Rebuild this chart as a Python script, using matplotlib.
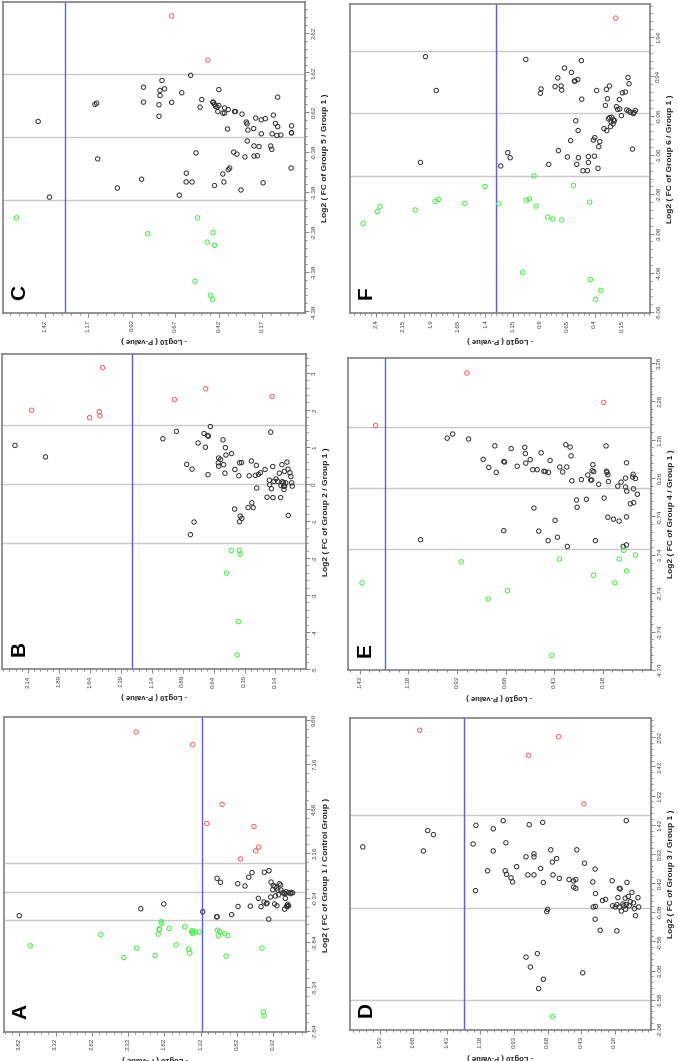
import numpy as np
import matplotlib
matplotlib.use("Agg")
import matplotlib.pyplot as plt
from matplotlib.ticker import FixedLocator

plt.rcParams['font.family'] = ['Liberation Sans', 'DejaVu Sans']

# ---------------- data: -log10(P) and log2(FC) per panel ----------------
# Panel A: Group 1 / Control Group
A_UP_P = [2.21, 1.43, 1.026, 1.237, 0.586, 0.522, 0.563, 0.770]
A_UP_FC = [8.97, 8.26, 4.90, 3.83, 3.66, 2.50, 2.29, 1.84]
A_NS_P = [3.82, 2.146, 1.829, 1.292, 1.100, 1.095, 1.095, 1.049, 0.893, 0.811, 0.806, 0.710,
          0.659, 0.637, 0.614, 0.526, 0.490, 0.448, 0.444, 0.416, 0.407, 0.380, 0.384, 0.352,
          0.357, 0.329, 0.320, 0.297, 0.292, 0.302, 0.274, 0.270, 0.260, 0.247, 0.237, 0.219,
          0.214, 0.187, 0.169, 0.159, 0.155, 0.164, 0.146, 0.137, 0.127, 0.123, 0.109, 0.081,
          0.077, 0.054, 0.109]
A_NS_FC = [-1.35, -0.96, -0.69, -1.13, -1.41, -1.41, 0.75, 0.525, -1.29, 0.45, -0.83, 0.32,
           0.81, -0.81, 1.07, -0.375, -0.84, -0.58, 1.09, -0.675, -0.64, 1.18, -1.54, 0.54,
           -0.30, 0.11, 0.34, 0.30, -0.24, -0.69, 0.21, -0.79, 0.09, -0.17, 0.45, 0.375,
           0.09, -0.06, -0.09, -0.11, -0.375, -0.98, 0.0, -0.81, -0.84, -0.71, -0.06, -0.11,
           -0.04, -0.06, -0.79]
A_DN_P = [3.669, 2.696, 2.380, 2.201, 1.948, 1.907, 1.893, 1.889, 1.866, 1.857, 1.756, 1.659,
          1.540, 1.490, 1.471, 1.444, 1.439, 1.430, 1.393, 1.343, 1.091, 1.077, 1.059, 0.990,
          0.948, 0.971, 0.476, 0.458, 0.448]
A_DN_FC = [-3.04, -2.42, -3.70, -3.17, -3.58, -2.38, -2.10, -2.12, -1.69, -1.78, -2.06, -2.98,
           -1.97, -3.23, -3.45, -2.27, -2.195, -2.345, -2.25, -2.27, -2.16, -2.48, -2.25, -2.36,
           -2.46, -3.62, -3.17, -6.75, -6.96]

# Panel B: Group 2 / Group 1
B_UP_P = [1.537, 2.111, 1.642, 1.564, 1.559, 0.956, 0.704, 0.167]
B_UP_FC = [3.14, 1.99, 1.79, 1.95, 1.84, 2.28, 2.57, 2.36]
B_NS_P = [2.245, 1.999, 1.05, 0.940, 0.857, 0.814, 0.798, 0.827, 0.765, 0.717, 0.706, 0.688,
          0.682, 0.666, 0.685, 0.599, 0.602, 0.599, 0.583, 0.564, 0.559, 0.545, 0.540, 0.548,
          0.495, 0.468, 0.470, 0.436, 0.430, 0.414, 0.430, 0.425, 0.412, 0.361, 0.352, 0.334,
          0.331, 0.320, 0.302, 0.294, 0.291, 0.277, 0.261, 0.224, 0.208, 0.189, 0.187, 0.178,
          0.173, 0.162, 0.160, 0.152, 0.135, 0.122, 0.108, 0.098, 0.095, 0.088, 0.084, 0.076,
          0.073, 0.071, 0.068, 0.066, 0.057, 0.047, 0.039, 0.036, 0.023, 0.015, 0.009, 0.004]
B_NS_FC = [1.04, 0.73, 1.22, 1.42, 0.53, 0.40, -1.03, -1.37, 1.105, 1.36, 0.99, 1.31,
           1.29, 1.55, 0.25, 0.70, 0.57, 0.48, 0.66, 1.19, 0.52, 0.98, 0.78, 0.29,
           0.82, 0.39, -0.68, 0.22, 0.57, 0.58, -1.02, -0.87, -0.93, -0.64, 0.22, 0.62,
           -0.51, -0.64, 0.23, 0.50, -0.11, 0.26, 0.30, 0.39, -0.36, 0.10, -0.02, 1.40,
           -0.13, 0.47, -0.37, 0.07, 0.135, 0.07, 0.29, -0.37, -0.045, 0.52, 0.06, 0.03,
           -0.06, -0.15, 0.34, -0.06, 0.03, 0.59, 0.40, -0.85, 0.30, 0.20, 0.03, -0.06]
B_DN_P = [0.497, 0.433, 0.425, 0.535, 0.438, 0.449]
B_DN_FC = [-1.80, -1.79, -1.90, -2.41, -3.72, -4.62]

# Panel C: Group 5 / Group 1
C_UP_P = [0.691, 0.483]
C_UP_FC = [3.04, 1.93]
C_NS_P = [1.458, 1.393, 1.132, 1.122, 1.116, 1.003, 0.864, 0.853, 0.853, 0.764, 0.764, 0.758,
          0.758, 0.747, 0.732, 0.691, 0.647, 0.633, 0.607, 0.608, 0.574, 0.582, 0.551, 0.528,
          0.518, 0.455, 0.451, 0.445, 0.439, 0.430, 0.420, 0.426, 0.397, 0.387, 0.387, 0.366,
          0.420, 0.445, 0.391, 0.397, 0.370, 0.366, 0.358, 0.335, 0.330, 0.324, 0.316, 0.293,
          0.287, 0.270, 0.262, 0.258, 0.253, 0.257, 0.220, 0.218, 0.218, 0.208, 0.199, 0.189,
          0.176, 0.176, 0.166, 0.153, 0.122, 0.114, 0.116, 0.107, 0.095, 0.087, 0.082, 0.082,
          0.064, 0.005, 0.003, 0.002, 0.002]
C_NS_FC = [0.39, -1.51, 0.82, 0.85, -0.55, -1.28, -1.06, 1.25, 0.875, 0.52, 0.81, 1.04,
           1.17, 1.42, 1.21, 0.87, -1.46, 1.11, -0.91, -1.13, -1.13, 1.55, -0.40, 0.75,
           0.94, 0.875, 0.87, 0.82, 0.77, 0.75, 0.79, 0.64, 0.60, 0.60, 0.73, 0.69,
           1.19, -1.22, -1.13, -0.93, 0.20, -0.82, -0.78, -0.38, 0.64, 0.64, -0.43, -1.33,
           0.575, -0.50, 0.375, 0.33, 0.175, -0.10, 0.21, -0.225, -0.48, 0.475, -0.47, -0.24,
           0.43, 0.08, -1.15, 0.46, -0.225, 0.08, -0.31, 0.55, 0.34, 0.04, 0.26, 1.0,
           0.05, -0.78, 0.11, 0.28, 0.10]
C_DN_P = [1.583, 0.828, 0.543, 0.487, 0.453, 0.445, 0.557, 0.468, 0.457]
C_DN_FC = [-2.03, -2.43, -2.03, -2.64, -2.40, -2.72, -3.625, -3.975, -4.075]

# Panel D: Group 3 / Group 1
D_UP_P = [1.631, 0.821, 0.597, 0.410]
D_UP_FC = [3.04, 2.61, 2.93, 1.78]
D_NS_P = [2.055, 1.572, 1.529, 1.604, 1.213, 1.233, 1.216, 1.126, 1.084, 1.084, 1.010, 0.990,
          0.995, 0.985, 0.952, 0.940, 0.910, 0.840, 0.826, 0.816, 0.781, 0.781, 0.781, 0.731,
          0.711, 0.716, 0.679, 0.656, 0.644, 0.639, 0.612, 0.592, 0.520, 0.487, 0.470, 0.485,
          0.462, 0.470, 0.405, 0.343, 0.326, 0.323, 0.340, 0.323, 0.326, 0.288, 0.271, 0.248,
          0.199, 0.196, 0.176, 0.164, 0.156, 0.146, 0.139, 0.146, 0.131, 0.164, 0.119, 0.112,
          0.102, 0.099, 0.094, 0.089, 0.094, 0.079, 0.072, 0.064, 0.052, 0.040, 0.034, 0.025,
          0.007, 0.002, 0.756, 0.840, 0.808, 0.711, 0.746, 0.686, 0.418]
D_NS_FC = [1.04, 1.32, 1.25, 0.97, 1.41, 1.09, 0.29, 0.63, 0.97, 1.35, 1.49, 1.11,
           0.63, 0.57, 0.51, 0.44, 0.70, 0.87, 0.56, 1.42, 0.87, 0.92, 0.56, 0.67,
           0.43, 1.46, -0.03, 0.99, 0.78, 0.56, 0.84, 0.50, 0.48, 0.455, 0.48, 0.35,
           0.99, 0.33, 0.76, 0.44, 0.66, 0.24, 0.01, 0.02, -0.20, -0.39, 0.12, 0.14,
           0.46, 0.03, 0.01, 0.05, 0.17, 0.33, 0.32, 0.01, -0.06, -0.40, 0.06, 0.03,
           0.16, -0.03, 0.05, 0.43, 1.49, 0.19, 0.03, 0.10, 0.26, 0.08, -0.02, -0.14,
           0.17, 0.01, -0.79, -0.85, -1.02, -1.23, -1.39, -0.07, -1.12]
D_DN_P = [0.644]
D_DN_FC = [-1.87]

# Panel E: Group 4 / Group 1
E_UP_P = [1.348, 0.879, 0.175]
E_UP_FC = [1.63, 3.0, 2.23]
E_NS_P = [1.117, 0.980, 0.952, 0.870, 0.795, 0.766, 0.735, 0.728, 0.689, 0.689, 0.685, 0.651,
          0.620, 0.581, 0.578, 0.576, 0.553, 0.540, 0.534, 0.517, 0.509, 0.497, 0.483, 0.476,
          0.461, 0.459, 0.451, 0.425, 0.413, 0.401, 0.386, 0.370, 0.365, 0.362, 0.348, 0.343,
          0.339, 0.315, 0.312, 0.290, 0.264, 0.257, 0.242, 0.237, 0.235, 0.231, 0.226, 0.218,
          0.201, 0.173, 0.163, 0.161, 0.158, 0.154, 0.154, 0.151, 0.125, 0.103, 0.096, 0.086,
          0.075, 0.058, 0.063, 0.063, 0.058, 0.057, 0.058, 0.038, 0.024, 0.026, 0.022, 0.021,
          0.012, 0.002]
E_NS_FC = [-1.345, 1.30, 1.41, 1.28, 0.75, 0.54, 1.10, 0.41, -1.11, 0.69, 0.68, 1.03,
           0.57, 1.06, 0.90, 0.65, 0.74, 0.48, -0.52, 0.48, -1.12, 0.92, 0.44, 0.43,
           -1.37, 0.41, 0.72, -0.84, -1.28, 0.55, 0.42, 1.13, 0.55, -1.52, 1.07, 0.84,
           0.19, -0.31, -0.50, 0.22, -0.29, 0.34, 0.21, 0.21, 0.45, 0.61, 0.43, -1.37,
           0.10, -0.26, 1.10, 0.44, 0.41, 0.35, -0.76, 0.17, -0.81, 0.05, -0.86, 0.155,
           -1.52, -1.48, 0.26, 0.03, 0.66, -0.08, -0.75, -0.41, 0.36, 0.29, -0.02, -0.38,
           0.25, -0.16]
E_DN_P = [1.418, 0.908, 0.769, 0.670, 0.442, 0.403, 0.228, 0.118, 0.095, 0.072, 0.058, 0.012]
E_DN_FC = [-2.47, -1.92, -2.89, -2.67, -4.36, -1.85, -2.27, -2.47, -1.85, -1.62, -2.16, -1.74]

# Panel F: Group 6 / Group 1
F_UP_P = [0.208]
F_UP_FC = [2.42]
F_NS_P = [1.949, 1.851, 1.995, 1.260, 1.196, 1.174, 1.031, 0.897, 0.891, 0.821, 0.763, 0.738,
          0.732, 0.708, 0.702, 0.677, 0.650, 0.620, 0.613, 0.586, 0.580, 0.574, 0.565, 0.555,
          0.552, 0.549, 0.522, 0.519, 0.507, 0.467, 0.458, 0.458, 0.412, 0.400, 0.403, 0.382,
          0.370, 0.363, 0.354, 0.315, 0.302, 0.293, 0.290, 0.284, 0.275, 0.266, 0.263, 0.256,
          0.250, 0.244, 0.232, 0.229, 0.220, 0.202, 0.190, 0.175, 0.171, 0.156, 0.147, 0.120,
          0.107, 0.095, 0.086, 0.089, 0.074, 0.055, 0.046, 0.040, 0.028]
F_NS_FC = [1.44, 0.58, -1.25, -1.34, -1.0, -1.13, 1.37, 0.51, 0.62, -1.30, 0.68, 0.90,
           -0.95, 0.695, 0.59, 1.15, -1.11, -0.695, 1.04, 0.82, 0.82, -0.19, -1.30, 0.86,
           -0.44, -1.13, 1.34, 0.36, -1.46, -1.46, -1.10, -1.25, -0.68, -0.62, -1.09, 0.58,
           -1.40, -0.85, -0.72, -0.39, 0.20, 0.61, -0.44, 0.37, -0.14, 0.695, -0.11, -0.34,
           -0.22, -0.10, -0.27, -0.17, -0.19, 0.17, 0.10, 0.35, 0.11, -0.06, 0.52, 0.54,
           0.085, 0.91, 0.75, 0.06, 0.025, -0.91, -0.01, 0.02, 0.07]
F_DN_P = [2.519, 2.391, 2.366, 2.043, 1.860, 1.830, 1.589, 1.406, 1.278, 1.059, 1.025, 0.998,
          0.955, 0.937, 0.830, 0.784, 0.702, 0.595, 0.446, 0.440, 0.345, 0.391]
F_DN_FC = [-2.80, -2.50, -2.37, -2.46, -2.24, -2.19, -2.29, -1.86, -2.30, -4.05, -2.21, -2.18,
           -1.59, -2.36, -2.64, -2.69, -2.71, -1.84, -2.26, -4.23, -4.51, -4.73]

# ---------------- axis settings ----------------
FC_CUT = np.log2(3)
P_CUT = -np.log10(0.05)

W, H = 678, 1061
fig = plt.figure(figsize=(W / 100, H / 100), dpi=100)


def rect(x0, y0, x1, y1):
    return [x0 / W, 1 - y1 / H, (x1 - x0) / W, (y1 - y0) / H]


def panel(box, letter, fc_label, up, ns, dn, p_lim, fc_lim, p_ticks, p_labels,
          fc_ticks, fc_labels, p_step, fc_step):
    ax = fig.add_axes(rect(*box))
    ax.axhline(0, color='#c8c8c8', lw=1.0, zorder=1)
    ax.axhline(FC_CUT, color='#c8c8c8', lw=1.0, zorder=1)
    ax.axhline(-FC_CUT, color='#c8c8c8', lw=1.0, zorder=1)
    ax.axvline(P_CUT, color='#5a5aff', lw=1.0, zorder=1)
    for (px, fy), col in zip([ns, up, dn], ['#303030', '#ff5a5a', '#3cf03c']):
        ax.scatter(px, fy, s=10, facecolors='none', edgecolors=col, linewidths=0.7, zorder=3)
    ax.set_xlim(*p_lim)
    ax.set_ylim(*fc_lim)
    ax.yaxis.tick_right()
    ax.yaxis.set_label_position('right')
    ax.set_xticks(p_ticks)
    ax.set_xticklabels(p_labels, rotation=90)
    ax.set_yticks(fc_ticks)
    ax.set_yticklabels(fc_labels, rotation=90, va='center')
    ax.xaxis.set_minor_locator(FixedLocator(np.arange(p_ticks[-1] - 2 * p_step, p_lim[0], p_step / 5)))
    ax.yaxis.set_minor_locator(FixedLocator(np.arange(fc_ticks[-1], fc_lim[1], fc_step / 5)))
    ax.tick_params(which='both', direction='out', colors='#707070', labelcolor='#404040',
                   labelsize=4.5, width=0.6, pad=1.5)
    ax.tick_params(which='major', length=3)
    ax.tick_params(which='minor', length=1.5)
    for s in ax.spines.values():
        s.set_color('#808080')
        s.set_linewidth(1.2)
    ax.set_xlabel('- Log10 ( P-value )', rotation=180, fontsize=5.5, fontweight='bold',
                  color='#202020', labelpad=3)
    ax.set_ylabel(fc_label, rotation=90, fontsize=6, fontweight='bold', color='#202020',
                  labelpad=4)
    ax.text(0.055, 0.065, letter, transform=ax.transAxes, rotation=90, fontsize=15,
            fontweight='bold', ha='center', va='center')
    return ax


def lab(vals, fmt):
    return [fmt.format(v) for v in vals]


c_pt = [1.42, 1.17, 0.92, 0.67, 0.42, 0.17]
c_ft = [2.62, 1.62, 0.62, -0.38, -1.38, -2.38, -3.38, -4.38]
panel((3, 2, 305, 313), 'C', 'Log2 ( FC of Group 5 / Group 1 )',
      (C_UP_P, C_UP_FC), (C_NS_P, C_NS_FC), (C_DN_P, C_DN_FC),
      (1.66, -0.075), (-4.42, 3.39), c_pt, lab(c_pt, '{:.2f}'), c_ft, lab(c_ft, '{:.2f}'), 0.25, 1.0)

b_pt = [2.14, 1.89, 1.64, 1.39, 1.14, 0.89, 0.64, 0.39, 0.14]
b_ft = [3, 2, 1, 0, -1, -2, -3, -4, -5]
panel((2, 354, 306, 669), 'B', 'Log2 ( FC of Group 2 / Group 1 )',
      (B_UP_P, B_UP_FC), (B_NS_P, B_NS_FC), (B_DN_P, B_DN_FC),
      (2.35, -0.107), (-5.0, 3.51), b_pt, lab(b_pt, '{:.2f}'), b_ft, lab(b_ft, '{:d}'), 0.25, 1.0)

a_pt = [3.82, 3.32, 2.82, 2.32, 1.82, 1.32, 0.82, 0.32]
a_ft = [9.66, 7.16, 4.66, 2.16, -0.34, -2.84, -5.34, -7.84]
panel((4, 717, 306, 1032), 'A', 'Log2 ( FC of Group 1 / Control Group )',
      (A_UP_P, A_UP_FC), (A_NS_P, A_NS_FC), (A_DN_P, A_DN_FC),
      (4.03, -0.13), (-7.88, 9.81), a_pt, lab(a_pt, '{:.2f}'), a_ft, lab(a_ft, '{:.2f}'), 0.5, 2.5)

f_pt = [2.4, 2.15, 1.9, 1.65, 1.4, 1.15, 0.9, 0.65, 0.4, 0.15]
f_ft = [1.94, 0.94, -0.06, -1.06, -2.06, -3.06, -4.06, -5.06]
panel((350, 4, 650, 313), 'F', 'Log2 ( FC of Group 6 / Group 1 )',
      (F_UP_P, F_UP_FC), (F_NS_P, F_NS_FC), (F_DN_P, F_DN_FC),
      (2.64, -0.106), (-5.08, 2.78), f_pt, lab(f_pt, '{:g}'), f_ft, lab(f_ft, '{:.2f}'), 0.25, 1.0)

e_pt = [1.43, 1.18, 0.93, 0.68, 0.43, 0.18]
e_ft = [3.26, 2.26, 1.26, 0.26, -0.74, -1.74, -2.74, -3.74, -4.74]
panel((348, 358, 651, 670), 'E', 'Log2 ( FC of Group 4 / Group 1 )',
      (E_UP_P, E_UP_FC), (E_NS_P, E_NS_FC), (E_DN_P, E_DN_FC),
      (1.49, -0.068), (-4.74, 3.39), e_pt, lab(e_pt, '{:.2f}'), e_ft, lab(e_ft, '{:.2f}'), 0.25, 1.0)

d_pt = [1.93, 1.68, 1.43, 1.18, 0.93, 0.68, 0.43, 0.18]
d_ft = [2.92, 2.42, 1.92, 1.42, 0.92, 0.42, -0.08, -0.58, -1.08, -1.58, -2.08]
panel((350, 718, 651, 1030), 'D', 'Log2 ( FC of Group 3 / Group 1 )',
      (D_UP_P, D_UP_FC), (D_NS_P, D_NS_FC), (D_DN_P, D_DN_FC),
      (2.15, -0.09), (-2.1, 3.25), d_pt, lab(d_pt, '{:.2f}'), d_ft, lab(d_ft, '{:.2f}'), 0.25, 0.5)

fig.savefig('out.png', dpi=100)
